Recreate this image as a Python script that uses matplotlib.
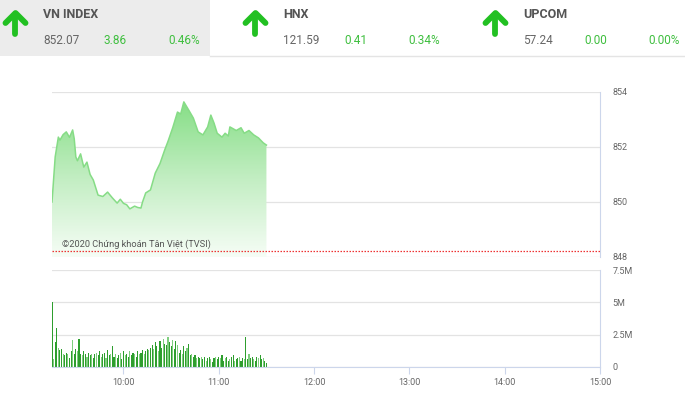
import numpy as np
import matplotlib
matplotlib.use("Agg")
import matplotlib.pyplot as plt
from matplotlib.colors import LinearSegmentedColormap

# index intraday values (time, VN-Index)
times = ["9:15", "9:17", "9:19", "9:20", "9:22", "9:24", "9:26", "9:28", "9:29", "9:30",
         "9:31", "9:33", "9:35", "9:37", "9:39", "9:41", "9:44", "9:47", "9:50", "9:53",
         "9:56", "9:58", "10:00", "10:02", "10:04", "10:07", "10:09", "10:11", "10:12", "10:14",
         "10:17", "10:20", "10:23", "10:26", "10:28", "10:31", "10:34", "10:36", "10:38", "10:41",
         "10:44", "10:47", "10:50", "10:53", "10:55", "10:57", "10:59", "11:02", "11:04", "11:06",
         "11:07", "11:11", "11:14", "11:16", "11:19", "11:22", "11:25", "11:28", "11:30"]
index_vals = [850.00, 851.64, 852.36, 852.25, 852.45, 852.55, 852.35, 852.62, 852.30, 851.64,
              851.50, 851.75, 851.27, 851.45, 851.00, 850.80, 850.25, 850.20, 850.36, 850.15,
              849.96, 850.10, 849.95, 849.90, 849.75, 849.85, 849.80, 849.78, 850.00, 850.33,
              850.44, 851.05, 851.40, 851.90, 852.20, 852.70, 853.27, 853.20, 853.64, 853.35,
              853.05, 852.55, 852.44, 852.73, 853.16, 852.87, 852.50, 852.36, 852.50, 852.40,
              852.73, 852.60, 852.70, 852.50, 852.60, 852.44, 852.33, 852.15, 852.07]
ref_level = 848.21

# volume per minute from 9:15 to 11:30 (millions)
volume = [5.0, 0.6, 1.9, 3.0, 1.5, 1.3, 1.4, 1.0, 0.9, 1.1, 1.0, 0.7, 1.2, 2.1, 1.0, 1.4,
          1.2, 2.2, 1.0, 0.9, 1.2, 1.0, 0.8, 1.1, 0.9, 1.0, 0.7, 1.0, 1.1, 0.9, 1.2,
          0.8, 1.0, 1.1, 0.7, 1.3, 0.9, 1.0, 1.6, 0.8, 1.0, 0.7, 0.9, 1.1, 0.6, 1.2,
          0.9, 1.0, 0.8, 1.2, 0.9, 1.1, 1.0, 0.8, 1.2, 1.0, 1.1, 1.3, 1.0, 1.2, 1.4,
          1.3, 1.5, 1.7, 1.4, 1.9, 1.6, 1.2, 2.0, 1.5, 2.2, 1.8, 1.7, 2.3, 1.9, 1.6,
          2.1, 1.4, 2.0, 1.7, 1.1, 1.3, 1.0, 1.6, 1.2, 1.5, 1.8, 0.9, 1.0, 0.8, 0.9,
          0.7, 0.8, 0.7, 0.8, 0.6, 0.8, 0.5, 0.7, 0.8, 0.6, 0.4, 0.7, 0.8, 0.6, 0.8,
          0.7, 0.9, 0.5, 0.7, 0.8, 0.5, 0.6, 0.8, 0.9, 0.5, 0.6, 0.7, 0.8, 0.5, 0.7,
          0.6, 2.3, 0.6, 1.0, 0.7, 0.8, 0.6, 0.5, 0.8, 0.7, 0.9, 0.6, 0.7, 0.5, 0.3]

x_ticks = ["10:00", "11:00", "12:00", "13:00", "14:00", "15:00"]
price_ticks = [848, 850, 852, 854]
vol_ticks = [0, 2.5, 5, 7.5]
vol_labels = ["0", "2.5M", "5M", "7.5M"]

# header boxes: name, value, change, percent
headers = [("VN INDEX", "852.07", "3.86", "0.46%"),
           ("HNX", "121.59", "0.41", "0.34%"),
           ("UPCOM", "57.24", "0.00", "0.00%")]


def to_hours(t):
    h, m = t.split(":")
    return int(h) + int(m) / 60.0


plt.rcParams['font.family'] = ['Roboto', 'DejaVu Sans']
W, H = 685, 398
fig = plt.figure(figsize=(W / 100, H / 100), dpi=100)

# background / header layer in pixel coordinates
bg = fig.add_axes([0, 0, 1, 1], zorder=-1)
bg.set_xlim(0, W)
bg.set_ylim(H, 0)
bg.axis("off")
bg.add_patch(plt.Rectangle((0, 0), 210, 56, color="#ececec", lw=0))
bg.plot([210, W], [56, 56], color="#e4e4e4", lw=1)

green = "#22c022"
txt_green = "#3fbf3f"
for i, (name, val, chg, pct) in enumerate(headers):
    x0 = i * 240
    ax_c = x0 + 15.5
    bg.plot([ax_c, ax_c], [15, 34], color=green, lw=4.2, solid_capstyle="round")
    bg.plot([ax_c - 10, ax_c, ax_c + 10], [23, 13, 23], color=green, lw=4.2,
            solid_capstyle="round", solid_joinstyle="round")
    bg.text(x0 + 43, 15, name, fontsize=9, fontweight="bold", color="#555555",
            va="center", ha="left")
    bg.text(x0 + 43, 40, val, fontsize=8.5, color="#666666", va="center", ha="left")
    bg.text(x0 + 104, 40, chg, fontsize=8.5, color=txt_green, va="center", ha="left")
    bg.text(x0 + 200, 40, pct, fontsize=8.5, color=txt_green, va="center", ha="right")

grid_c = "#e3e3e3"
axis_c = "#ccd6eb"
lab_c = "#666666"

# price chart
ax1 = fig.add_axes([52 / W, 1 - 257 / H, 548 / W, 165 / H])
th = np.array([to_hours(t) for t in times])
pv = np.array(index_vals)
top = pv.max()
poly = ax1.fill_between(th, pv, 848, color="none", lw=0)
cmap = LinearSegmentedColormap.from_list("g", ["#f6fdf6", "#c3eec3", "#86de86"])
grad = np.linspace(1, 0, 256).reshape(-1, 1)
im = ax1.imshow(grad, extent=[th[0], th[-1], 848, top], aspect="auto", cmap=cmap,
                origin="upper", zorder=1)
im.set_clip_path(poly.get_paths()[0], transform=ax1.transData)
ax1.plot(th, pv, color="#86dc86", lw=1.1, zorder=2)
ax1.axhline(ref_level, color="#ee3333", lw=0.9, ls=(0, (1.2, 1.2)), zorder=3)
ax1.text(9.25 + 10 / 95.3, 848.3, "©2020 Chứng khoán Tân Việt (TVSI)", fontsize=6.7,
         color="#555555", va="bottom", ha="left", zorder=4)
ax1.set_xlim(9.25, 15)
ax1.set_ylim(848, 854)
ax1.set_yticks(price_ticks)
ax1.set_yticklabels([str(p) for p in price_ticks])
ax1.yaxis.tick_right()
ax1.tick_params(axis="y", length=0, pad=9, labelsize=6.5, labelcolor=lab_c)
ax1.set_xticks([])
ax1.grid(axis="y", color=grid_c, lw=0.9)
for s in ["left", "top", "bottom"]:
    ax1.spines[s].set_visible(False)
ax1.spines["right"].set_color(axis_c)
ax1.spines["right"].set_linewidth(0.8)
ax1.set_axisbelow(True)

# volume chart
ax2 = fig.add_axes([52 / W, 1 - 367 / H, 548 / W, 97 / H])
vx = 9.25 + np.arange(len(volume)) / 60.0
cols = ["#2e9e2e" if (k % 3 != 1) else "#7fce7f" for k in range(len(volume))]
ax2.bar(vx, volume, width=0.7 / 60, color=cols, lw=0, align="center")
ax2.set_xlim(9.25, 15)
ax2.set_ylim(0, 7.5)
ax2.set_yticks(vol_ticks)
ax2.set_yticklabels(vol_labels)
ax2.yaxis.tick_right()
ax2.tick_params(axis="y", length=0, pad=9, labelsize=6.5, labelcolor=lab_c)
ax2.set_xticks([to_hours(t) for t in x_ticks])
ax2.set_xticklabels(x_ticks)
ax2.tick_params(axis="x", length=5, width=0.8, color=axis_c, pad=3,
                labelsize=6.5, labelcolor=lab_c)
ax2.grid(axis="y", color=grid_c, lw=0.9)
ax2.spines["left"].set_visible(False)
ax2.spines["top"].set_visible(False)
ax2.spines["right"].set_color(axis_c)
ax2.spines["bottom"].set_color(axis_c)
ax2.set_axisbelow(True)

fig.savefig("out.png", dpi=100)
